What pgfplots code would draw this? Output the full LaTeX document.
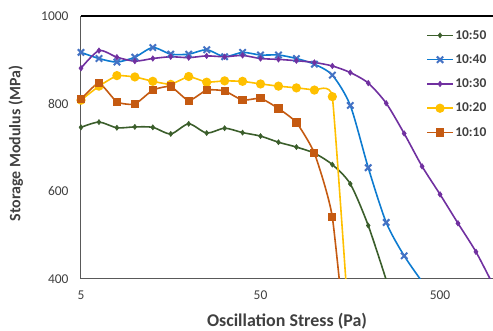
\documentclass[border=0pt]{standalone}
\usepackage{fontspec}
\setmainfont{Carlito}
\usepackage{pgfplots}
\pgfplotsset{compat=1.18}
\definecolor{cgreen}{HTML}{3B5E2B}
\definecolor{cblue}{HTML}{0D7BD0}
\definecolor{cblue2}{HTML}{4472C4}
\definecolor{cpurple}{HTML}{7030A0}
\definecolor{cyellow}{HTML}{FFC000}
\definecolor{corange}{HTML}{C55A11}
\definecolor{axgray}{HTML}{595959}
\definecolor{txtgray}{HTML}{404040}
\begin{document}
\begin{tikzpicture}
\begin{axis}[
  scale only axis, width=412bp, height=263bp,
  xmode=log, xmin=5, xmax=986, ymin=400, ymax=1000,
  xtick={5,50,500}, xticklabels={5,50,500},
  ytick={400,600,800,1000},
  /pgf/number format/1000 sep={},
  minor xtick={},
  major tick length=0pt, minor tick length=0pt,
  axis x line*=bottom, axis y line*=left,
  axis line style={-, axgray, line width=1bp},
  /pgf/number format/assume math mode=true,
  ticklabel style={font=\fontsize{13.5}{15}\selectfont, text=txtgray},
  yticklabel style={xshift=-9bp},
  xticklabel style={yshift=-8bp},
  xlabel={\textbf{Oscillation Stress (Pa)}},
  ylabel={\textbf{Storage Modulus (MPa)}},
  every axis x label/.style={at={(axis description cs:0.5,-0.160)}, anchor=center, font=\fontsize{18}{20}\selectfont, text=txtgray},
  every axis y label/.style={at={(axis description cs:-0.158,0.515)}, rotate=90, anchor=center, font=\fontsize{16}{18}\selectfont, text=txtgray},
  legend style={at={(1,1)}, anchor=north east, xshift=-2bp, yshift=-5bp, draw=none, fill=none,
    font=\bfseries\fontsize{13.5}{15}\selectfont, text=txtgray, row sep=0bp,
    nodes={inner sep=1.5bp, minimum height=24.3bp}},
  legend cell align=left,
  legend image code/.code={\draw[mark repeat=2,mark phase=2] plot coordinates {(0bp,0bp) (13bp,0bp) (26bp,0bp)};},
  every axis plot/.append style={line width=1.6bp, smooth, tension=0.45},
]
% 10:50
\addplot[cgreen, mark=diamond*, mark size=2.6pt, mark options={solid, fill=cgreen, line width=0.5bp}] coordinates {
(5,746) (6.2946,758) (7.9245,745) (9.9763,747) (12.559,746) (15.811,731) (19.905,754) (25.059,733) (31.548,744) (39.716,734)
(50,726) (62.946,712) (79.245,701) (99.763,687) (125.59,661) (158.11,617) (199.05,522) (250.59,398)};
\addlegendentry{10:50}
% 10:40
\addplot[cblue, mark=x, mark size=4.5pt, mark options={solid, draw=cblue2, line width=2bp}] coordinates {
(5,917) (6.2946,903) (7.9245,895) (9.9763,906) (12.559,928) (15.811,913) (19.905,913) (25.059,923) (31.548,907) (39.716,917)
(50,911) (62.946,911) (79.245,903) (99.763,890) (125.59,865) (158.11,796) (199.05,654) (250.59,529) (315.48,453) (397.16,394)};
\addlegendentry{10:40}
% 10:30
\addplot[cpurple, mark=diamond*, mark size=2.8pt, mark options={solid, fill=cpurple, line width=0.5bp}] coordinates {
(5,881) (6.2946,921) (7.9245,906) (9.9763,897) (12.559,903) (15.811,907) (19.905,905) (25.059,909) (31.548,907) (39.716,910)
(50,903) (62.946,901) (79.245,898) (99.763,894) (125.59,886) (158.11,871) (199.05,847) (250.59,801) (315.48,732) (397.16,657)
(500,593) (629.46,527) (792.45,462) (997.63,383)};
\addlegendentry{10:30}
% 10:20
\addplot[cyellow, tension=0.2, mark=*, mark size=3.8pt, mark options={solid, fill=cyellow}] coordinates {
(5,808) (6.2946,840) (7.9245,864) (9.9763,861) (12.559,851) (15.811,844) (19.905,862) (25.059,849) (31.548,852) (39.716,851)
(50,845) (62.946,840) (79.245,836) (99.763,831) (125.59,816) (158.11,250)};
\addlegendentry{10:20}
% 10:10
\addplot[corange, tension=0.3, mark=square*, mark size=3.3pt, mark options={solid, fill=corange}] coordinates {
(5,810) (6.2946,847) (7.9245,804) (9.9763,799) (12.559,831) (15.811,839) (19.905,807) (25.059,831) (31.548,829) (39.716,808)
(50,812) (62.946,789) (79.245,757) (99.763,687) (125.59,541) (158.11,150)};
\addlegendentry{10:10}
\draw[black, line width=1.3bp] (rel axis cs:0,1) -- (rel axis cs:1,1);
\end{axis}
\pgfresetboundingbox
\path ([xshift=-81bp,yshift=-52bp]current axis.south west) rectangle ([yshift=16bp]current axis.north east);
\end{tikzpicture}
\end{document}
